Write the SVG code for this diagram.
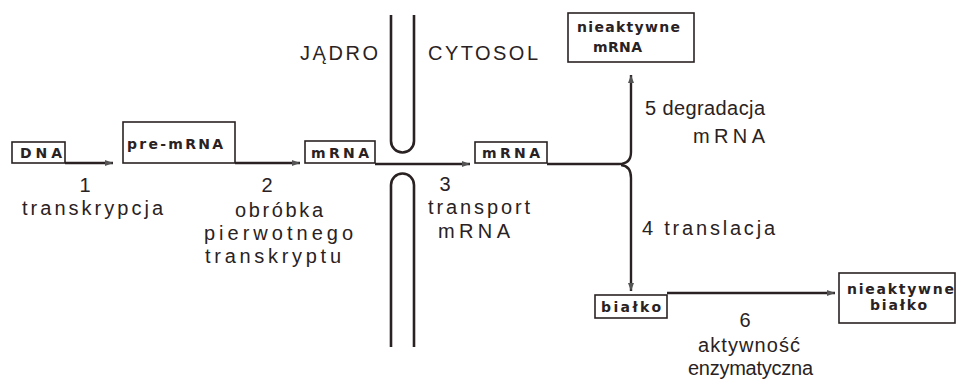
<svg xmlns="http://www.w3.org/2000/svg" width="958" height="382" viewBox="0 0 958 382">
<style>
.t{font-family:"Liberation Sans",Arial,sans-serif;font-size:20px;fill:#2a2222}
.b{font-family:"DejaVu Sans","Liberation Sans",sans-serif;font-size:14px;font-weight:bold;fill:#2a2222}
.box{fill:#fff;stroke:#2a2222;stroke-width:1.6}
.c{fill:none;stroke:#2a2222;stroke-width:2.4}
.p{fill:none;stroke:#2a2222;stroke-width:2.6}
</style>
<defs>
<marker id="ar" viewBox="0 0 8 6" refX="8" refY="3" markerWidth="8" markerHeight="6" markerUnits="userSpaceOnUse" orient="auto">
<path d="M0,0 L8,3 L0,6 z" fill="#555"/>
</marker>
</defs>
<rect width="958" height="382" fill="#fff"/>
<g id="pore">
<path class="p" d="M391,15 V141 A11.5,11.5 0 0 0 414,141 V15"/>
<path class="p" d="M391,347 V185 A11.5,11.5 0 0 1 414,185 V347"/>
<text class="t" x="300" y="60" textLength="78" lengthAdjust="spacing">JĄDRO</text>
<text class="t" x="428" y="60" textLength="110" lengthAdjust="spacing">CYTOSOL</text>
</g>
<g id="connectors">
<path class="c" d="M65,163 H113" marker-end="url(#ar)"/>
<path class="c" d="M235,163 H300" marker-end="url(#ar)"/>
<path class="c" d="M375,164 H470" marker-end="url(#ar)"/>
<path class="c" d="M547,164 H619 Q631,164 631,152 V75" marker-end="url(#ar)"/>
<path class="c" d="M621,165 Q631,166 631,178 V291" marker-end="url(#ar)"/>
<path class="c" d="M667,293 H835" marker-end="url(#ar)"/>
</g>
<g id="labels">
<text class="t" x="85" y="192" text-anchor="middle">1</text>
<text class="t" x="22" y="215" textLength="141" lengthAdjust="spacing">transkrypcja</text>
<text class="t" x="267" y="192" text-anchor="middle">2</text>
<text class="t" x="235" y="217" textLength="88" lengthAdjust="spacing">obróbka</text>
<text class="t" x="204" y="240" textLength="149" lengthAdjust="spacing">pierwotnego</text>
<text class="t" x="205" y="263" textLength="136" lengthAdjust="spacing">transkryptu</text>
<text class="t" x="445" y="191" text-anchor="middle">3</text>
<text class="t" x="428" y="214" textLength="102" lengthAdjust="spacing">transport</text>
<text class="t" x="438" y="238" textLength="72" lengthAdjust="spacing">mRNA</text>
<text class="t" x="645" y="115" textLength="120" lengthAdjust="spacing">5 degradacja</text>
<text class="t" x="693" y="143" textLength="72" lengthAdjust="spacing">mRNA</text>
<text class="t" x="642" y="235" textLength="133" lengthAdjust="spacing">4 translacja</text>
<text class="t" x="745" y="327" text-anchor="middle">6</text>
<text class="t" x="698" y="352" textLength="102" lengthAdjust="spacing">aktywność</text>
<text class="t" x="688" y="375" textLength="125" lengthAdjust="spacing">enzymatyczna</text>
</g>
<g id="dna">
<rect class="box" x="12" y="142" width="53" height="21"/>
<text class="b" x="20" y="158" textLength="42" lengthAdjust="spacing">DNA</text>
</g>
<g id="pre-mrna">
<rect class="box" x="123" y="122" width="112" height="41"/>
<text class="b" x="127" y="149" textLength="96" lengthAdjust="spacing">pre-mRNA</text>
</g>
<g id="mrna-nucleus">
<rect class="box" x="305" y="141" width="70" height="22"/>
<text class="b" x="311" y="158" textLength="58" lengthAdjust="spacing">mRNA</text>
</g>
<g id="mrna-cytosol">
<rect class="box" x="475" y="142" width="72" height="21"/>
<text class="b" x="482" y="158" textLength="58" lengthAdjust="spacing">mRNA</text>
</g>
<g id="inactive-mrna">
<rect class="box" x="568" y="13" width="126" height="49"/>
<text class="b" x="577" y="32" textLength="103" lengthAdjust="spacing">nieaktywne</text>
<text class="b" x="593" y="52" textLength="49" lengthAdjust="spacing">mRNA</text>
</g>
<g id="protein">
<rect class="box" x="595" y="295" width="72" height="23"/>
<text class="b" x="601" y="312" textLength="60" lengthAdjust="spacing">białko</text>
</g>
<g id="inactive-protein">
<rect class="box" x="839" y="273" width="116" height="50"/>
<text class="b" x="847" y="294" textLength="107" lengthAdjust="spacing">nieaktywne</text>
<text class="b" x="870" y="310" textLength="57" lengthAdjust="spacing">białko</text>
</g>
</svg>
